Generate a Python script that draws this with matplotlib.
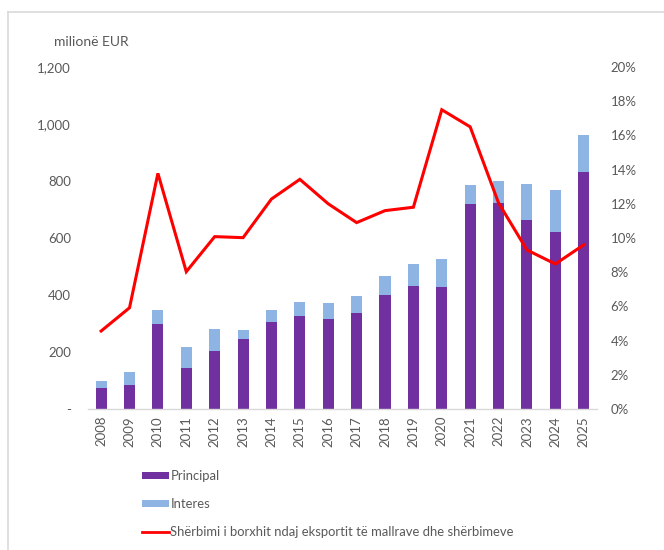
import matplotlib
matplotlib.use("Agg")
import matplotlib.pyplot as plt
from matplotlib.lines import Line2D
from matplotlib.patches import Patch
import numpy as np

years = ["2008", "2009", "2010", "2011", "2012", "2013", "2014", "2015", "2016",
         "2017", "2018", "2019", "2020", "2021", "2022", "2023", "2024", "2025"]
principal = [72, 84, 297, 145, 204, 245, 305, 327, 317,
             336, 399, 430, 428, 719, 724, 663, 622, 833]
total = [100, 131, 347, 216, 281, 277, 347, 375, 371,
         396, 468, 508, 526, 786, 801, 788, 768, 961]
interest = [t - p for t, p in zip(total, principal)]
ratio = [4.56, 5.92, 13.78, 8.03, 10.08, 10.02, 12.28, 13.43, 12.0,
         10.9, 11.6, 11.8, 17.5, 16.5, 12.05, 9.3, 8.48, 9.6]

left_ticks = [0, 200, 400, 600, 800, 1000, 1200]
left_labels = ["-", "200", "400", "600", "800", "1,000", "1,200"]
right_ticks = [0, 2, 4, 6, 8, 10, 12, 14, 16, 18, 20]

plt.rcParams['font.family'] = ['Lato', 'DejaVu Sans']
grey = "#595959"
c_princ = "#7030A0"
c_int = "#8EB4E3"
c_line = "#FF0000"

W, H = 664, 550
fig = plt.figure(figsize=(W / 100, H / 100), dpi=100)
ax_l, ax_r_px, ax_t, ax_b = 87.5, 596.5, 67, 409
ax = fig.add_axes([ax_l / W, 1 - ax_b / H, (ax_r_px - ax_l) / W, (ax_b - ax_t) / H])
ax2 = ax.twinx()

x = np.arange(len(years))
bw = 0.39
ax.bar(x, principal, width=bw, color=c_princ, zorder=2)
ax.bar(x, interest, width=bw, bottom=principal, color=c_int, zorder=2)
ax2.plot(x, ratio, color=c_line, lw=2.2, solid_joinstyle='miter', zorder=3)

ax.set_xlim(-0.48, 17.45)
ax.set_ylim(0, 1200)
ax2.set_ylim(0, 20)

ax.set_yticks(left_ticks)
ax.set_yticklabels(left_labels)
ax2.set_yticks(right_ticks)
ax2.set_yticklabels([f"{t}%" for t in right_ticks])
ax.set_xticks(x)
ax.set_xticklabels(years, rotation=90)

for a in (ax, ax2):
    for s in a.spines.values():
        s.set_visible(False)
    a.tick_params(length=0, labelsize=9.5, colors=grey)
ax.spines['bottom'].set_visible(True)
ax.spines['bottom'].set_color("#D9D9D9")
ax.spines['bottom'].set_linewidth(1.0)
ax.tick_params(axis='y', pad=12)
ax.tick_params(axis='x', pad=5)
ax2.tick_params(axis='y', pad=10)

fig.text(54 / W, 1 - 42 / H, "milionë EUR", fontsize=10, color=grey, va='center', ha='left')

handles = [Patch(facecolor=c_princ, edgecolor='none'),
           Patch(facecolor=c_int, edgecolor='none'),
           Line2D([0], [0], color=c_line, lw=2)]
labels = ["Principal", "Interes",
          "Shërbimi i borxhit ndaj eksportit të mallrave dhe shërbimeve"]
leg = fig.legend(handles, labels, loc='upper left', bbox_to_anchor=(130 / W, 1 - 458 / H),
                 frameon=False, fontsize=9.4, labelcolor=grey, handlelength=2.1,
                 handleheight=0.45, handletextpad=0.1, labelspacing=1.25)

# chart border lines (top and left)
fig.add_artist(Line2D([7.5 / W, 1], [1 - 11.5 / H, 1 - 11.5 / H], color="#D9D9D9", lw=1.2,
                      transform=fig.transFigure))
fig.add_artist(Line2D([7.5 / W, 7.5 / W], [0, 1 - 11.5 / H], color="#D9D9D9", lw=1.2,
                      transform=fig.transFigure))

fig.savefig("out.png", dpi=100)
